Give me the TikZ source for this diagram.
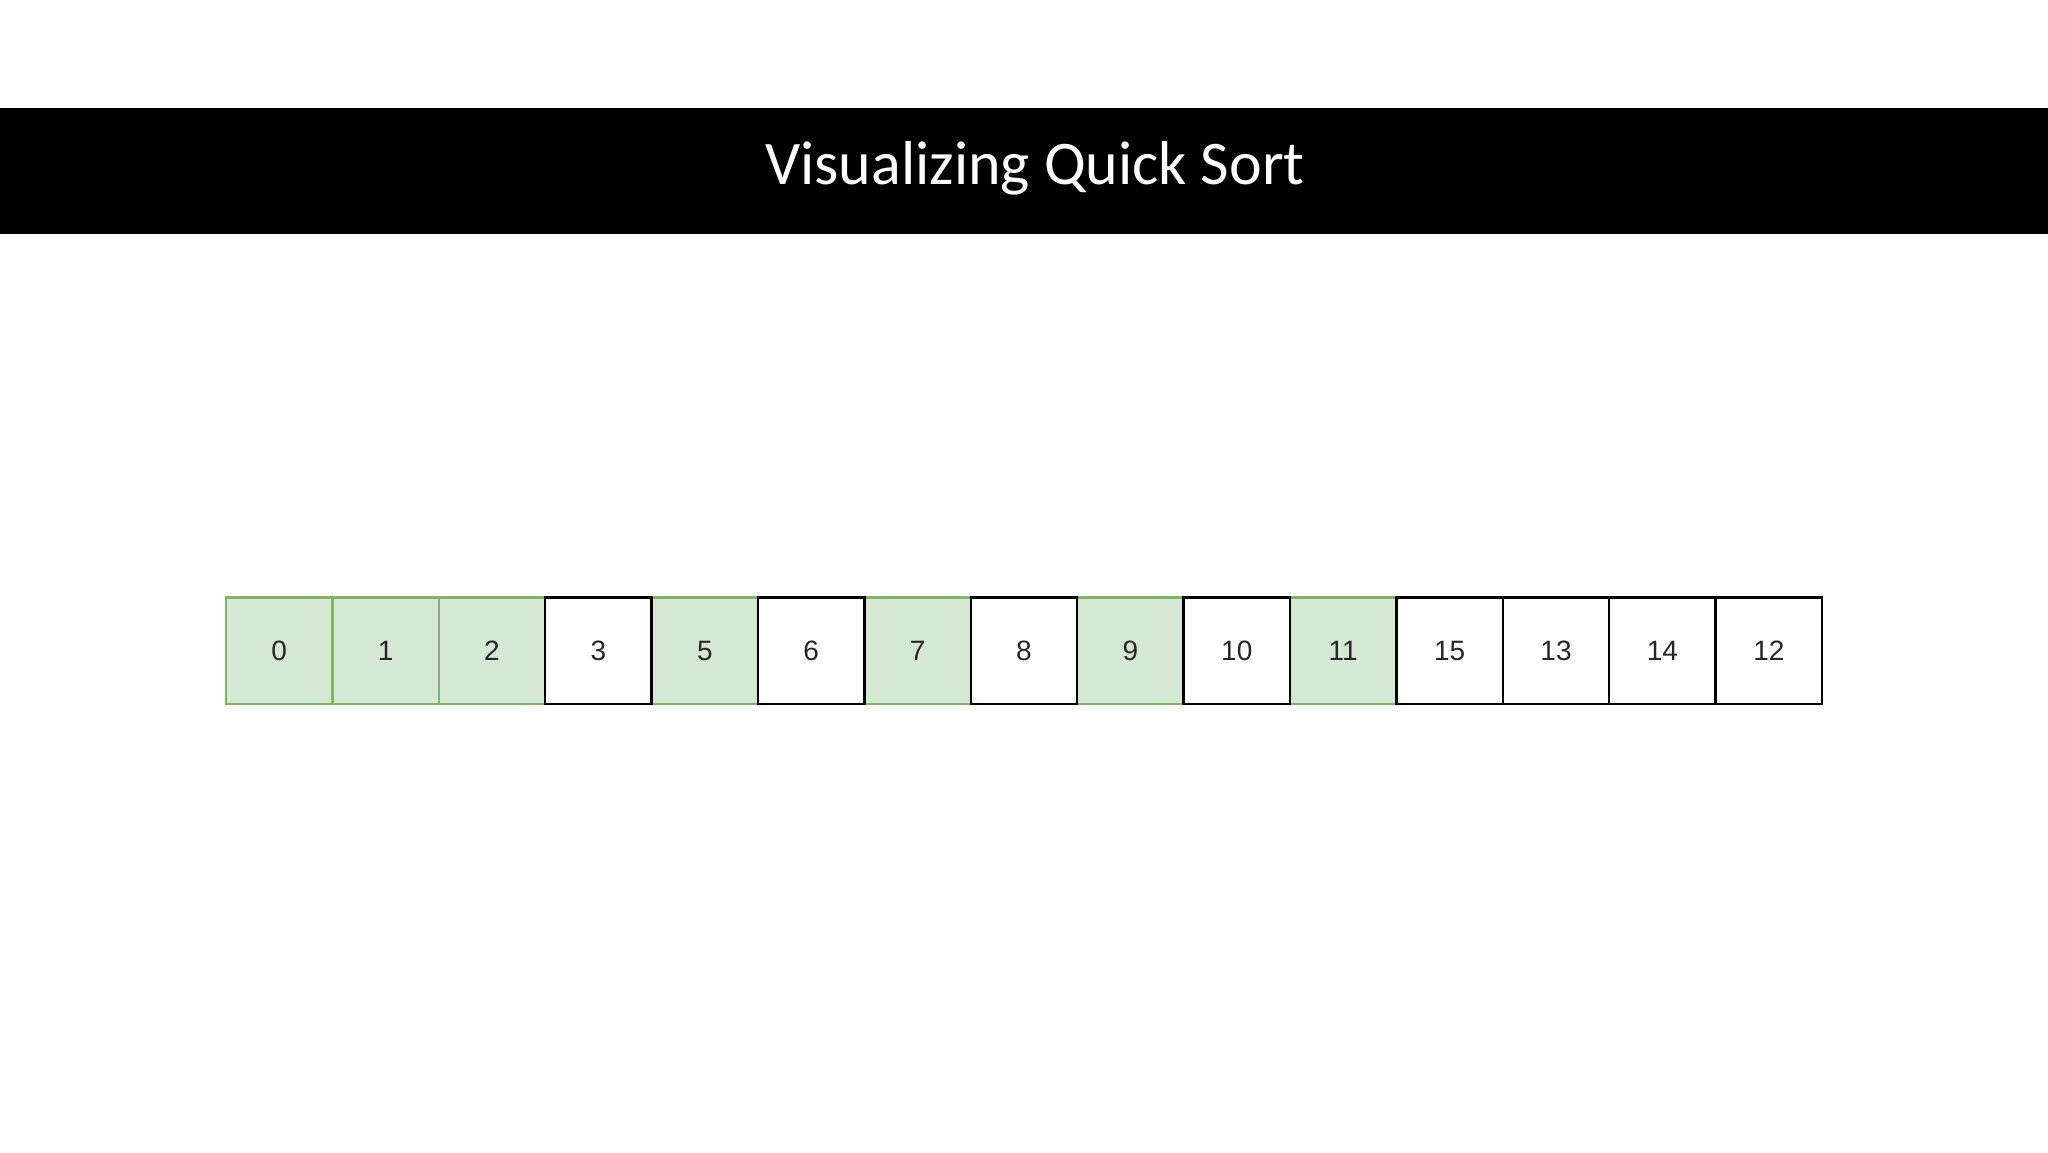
\documentclass[tikz,border=0pt]{standalone}
\usepackage{fontspec}
\setmainfont{Liberation Sans}
\newfontfamily\titlefont{Carlito}
\definecolor{gfill}{HTML}{D5E8D4}
\definecolor{gline}{HTML}{82B366}
\begin{document}
\begin{tikzpicture}[x=0.5pt,y=-0.5pt,
  cellw/.style={draw=black,line width=1.2pt,minimum width=53.2pt,minimum height=53.2pt,inner sep=0pt,font=\fontsize{14}{16}\selectfont,text=black!85},
  cellg/.style={cellw,fill=gfill,draw=gline}]
\useasboundingbox (0,0) rectangle (2048,1152);
\fill[white] (0,0) rectangle (2048,1152);
\fill[black] (0,108) rectangle (2048,234);
\node[text=white,font=\titlefont\fontsize{31}{36}\selectfont] (title) at (1035,168) {Visualizing Quick Sort};
\foreach \v [count=\i from 0] in {0,1,2,3,5,6,7,8,9,10,11,15,13,14,12}{
  \pgfmathtruncatemacro\g{(\i<3)||(\i==4)||(\i==6)||(\i==8)||(\i==10)}
  \ifnum\g=1
    \node[cellg] (c\i) at ({226+53.2+\i*106.4},650.5) {\v};
  \fi
}
\foreach \v [count=\i from 0] in {0,1,2,3,5,6,7,8,9,10,11,15,13,14,12}{
  \pgfmathtruncatemacro\g{(\i<3)||(\i==4)||(\i==6)||(\i==8)||(\i==10)}
  \ifnum\g=0
    \node[cellw] (c\i) at ({226+53.2+\i*106.4},650.5) {\v};
  \fi
}
\end{tikzpicture}
\end{document}
